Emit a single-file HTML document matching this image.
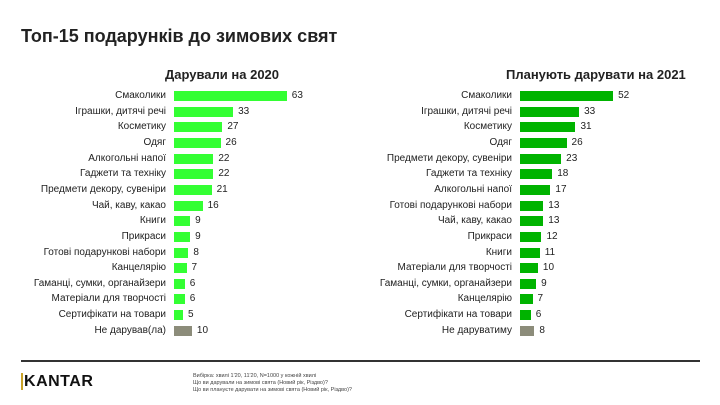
<!DOCTYPE html>
<html><head><meta charset="utf-8"><style>
body{margin:0;width:720px;height:405px;background:#fff;font-family:"Liberation Sans",sans-serif;position:relative;overflow:hidden;color:#222}
.a{position:absolute;white-space:nowrap}
.l{font-size:10px;text-align:right;width:200px;line-height:12px}
.v{font-size:10px;line-height:12px}
.b{position:absolute;height:10px}
</style></head><body>
<div class="a" style="left:21px;top:26px;font-size:18px;font-weight:bold;color:#222">Топ-15 подарунків до зимових свят</div>
<div class="a" style="left:165px;top:67px;font-size:13px;font-weight:bold">Дарували на 2020</div>
<div class="a" style="left:506px;top:67px;font-size:13px;font-weight:bold">Планують дарувати на 2021</div>
<div id="c"></div>
<div class="a" style="left:21px;top:360px;width:679px;height:2px;background:#333"></div>
<div class="a" style="left:21px;top:373px;font-size:16px;font-weight:bold;letter-spacing:0.5px;color:#111"><span style="border-left:2px solid #c9a227;padding-left:1px">K</span>ANTAR</div>
<div class="a" style="left:193px;top:373px;font-size:5.5px;line-height:7px;color:#444">Вибірка: хвилі 1'20, 11'20, N=1000 у кожній хвилі<br>Що ви дарували на зимові свята (Новий рік, Різдво)?<br>Що ви плануєте дарувати на зимові свята (Новий рік, Різдво)?</div>
<script>
var L=[["Смаколики",63],["Іграшки, дитячі речі",33],["Косметику",27],["Одяг",26],["Алкогольні напої",22],["Гаджети та техніку",22],["Предмети декору, сувеніри",21],["Чай, каву, какао",16],["Книги",9],["Прикраси",9],["Готові подарункові набори",8],["Канцелярію",7],["Гаманці, сумки, органайзери",6],["Матеріали для творчості",6],["Сертифікати на товари",5],["Не дарував(ла)",10]];
var R=[["Смаколики",52],["Іграшки, дитячі речі",33],["Косметику",31],["Одяг",26],["Предмети декору, сувеніри",23],["Гаджети та техніку",18],["Алкогольні напої",17],["Готові подарункові набори",13],["Чай, каву, какао",13],["Прикраси",12],["Книги",11],["Матеріали для творчості",10],["Гаманці, сумки, органайзери",9],["Канцелярію",7],["Сертифікати на товари",6],["Не даруватиму",8]];
var h="";
function draw(D,x0,col){D.forEach(function(d,i){var y=91+i*15.65;var w=d[1]*1.79;var c=i==15?"#8c8c7a":col;
h+='<div class="a l" style="left:'+(x0-208)+'px;top:'+(y-1)+'px">'+d[0]+'</div>';
h+='<div class="b" style="left:'+x0+'px;top:'+y+'px;width:'+w+'px;background:'+c+'"></div>';
h+='<div class="a v" style="left:'+(x0+w+5)+'px;top:'+(y-1)+'px">'+d[1]+'</div>';});}
draw(L,174,"#33ff33");draw(R,520,"#00b300");
document.getElementById("c").innerHTML=h;
</script>
</body></html>
